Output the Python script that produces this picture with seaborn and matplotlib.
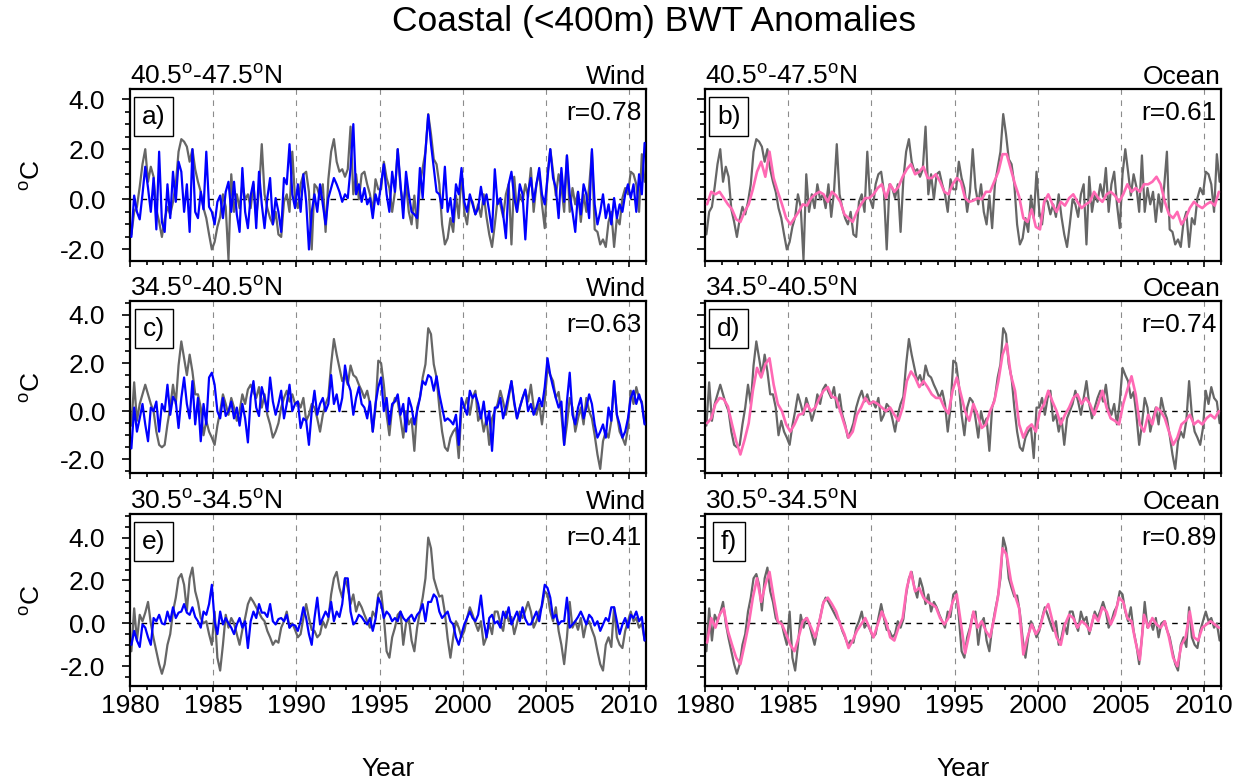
import numpy as np
import matplotlib
matplotlib.use("Agg")
import matplotlib.pyplot as plt
from matplotlib.ticker import MultipleLocator, FormatStrFormatter
import seaborn as sns

# ------- DATA (anomalies, degC) -----------------------------
# gray/wind series: 6 samples per year, ocean series: 4 samples per year, 1980-2010
years6 = 1980 + (np.arange(186) + 0.5) / 6
years4 = 1980 + (np.arange(124) + 0.5) / 4

obs_north = [
    -1.4, -0.5, -0.3, 0.5, 1.4, 2.0,   0.7, 1.3, 0.9, -0.4, -0.9, -1.5,
    -0.8, -0.3, -0.6, -0.1, 0.6, 1.9,  2.4, 2.3, 2.1, 1.5, 2.0, 1.2,
    0.7, 0.3, -0.35, -0.75, -1.4, -2.0,  -1.7, -1.1, -0.7, 0.2, -0.3, -2.4,
    1.0, -0.5, 0.2, -0.35, 0.6, 0.0,   0.2, -0.35, 0.6, -0.7, 0.3, 2.2,
    0.2, -0.35, -0.75, -1.0, -0.5, -1.4,  -1.5, -0.1, 0.2, -0.5, 1.9, 0.0,
    -0.35, 0.6, 1.0, 1.1, 0.3, -2.0,  0.6, 0.45, 0.05, 0.6, -1.3, 0.8,
    1.9, 2.4, 1.5, 1.1, 1.2, 0.9,   1.2, 2.9, 0.2, 1.0, 0.0, 1.0,
    1.1, 0.6, 0.2, -0.5, 0.8, 0.4,   0.4, 1.5, 0.85, 0.45, -0.5, 0.3,
    2.0, 0.45, -0.2, 0.6, -0.5, -1.0,  0.15, -1.15, 0.6, 1.25, 1.9, 3.4,
    2.6, 1.6, 1.4, 0.6, -1.0, -1.8,  -1.55, -0.75, -1.3, 0.15, -0.75, 1.1,
    -0.5, -1.0, 0.05, -0.1, -0.6, -0.2,  -0.7, 0.2, -0.7, -1.4, -1.9, -1.0,
    0.0, -0.2, -0.7, 0.2, 0.6, -1.8,  0.9, -0.5, 0.2, -0.1, 0.6, 0.1,
    1.25, -0.5, 0.6, 1.1, -0.2, -1.15,  1.0, 2.0, 1.1, 0.15, 1.0, 0.5,
    -0.5, 1.75, -0.5, 0.45, -0.2, 0.3,  -0.9, 0.2, -0.5, 0.5, 1.9, -1.2,
    -1.3, -1.8, -1.6, -1.9, -0.9, -0.5,  -1.9, -0.75, -1.0, 0.05, 0.45, 0.2,
    1.1, 1.0, 0.6, -0.5, 1.8, 0.7,
]
wind_north = [
    -1.5, 0.15, -0.5, -0.8, 0.2, 1.3,  0.45, -0.5, 0.85, -1.2, 1.9, -0.9,
    -1.3, 0.6, -0.75, 1.1, -0.1, 1.5,  1.1, -0.5, 0.6, -1.3, 2.0, -0.5,
    -0.75, 0.3, -0.4, 1.9, -0.3, -0.5,  -1.0, -0.1, 0.15, -0.75, 0.3, 0.7,
    -0.5, 0.7, -0.6, -1.3, 1.25, -0.5,  -1.15, 0.15, 0.7, -1.15, 1.1, -0.2,
    -1.15, 0.05, 0.85, -1.0, 0.05, -0.5,  -1.3, 0.85, 0.6, 2.2, 0.2, -0.35,
    0.6, -0.5, 1.0, -0.1, -2.0, -0.5,  0.2, -0.5, 0.6, -0.2, -1.0, 0.05,
    0.45, 0.85, 0.6, 0.3, -0.1, 0.2,  0.05, 1.25, 3.0, 0.2, 0.6, -0.1,
    0.45, -0.2, 0.05, -0.75, 0.2, -0.2,  0.6, 1.4, 0.2, -0.5, 1.1, 0.3,
    2.0, 0.6, -0.75, 1.1, 0.2, -0.5,  -0.6, -0.75, 1.25, 0.05, 1.9, 3.37,
    2.2, 1.25, 0.3, 0.2, -0.35, 1.3,  -0.5, 0.05, -0.9, 0.6, 0.2, 1.25,
    -0.1, -0.5, 0.2, -0.2, -0.6, -0.35,  0.5, -0.2, 0.2, -0.5, -1.3, 1.2,
    -0.2, 0.05, -0.6, -1.55, 0.6, 1.1,  0.05, -0.5, 0.6, 0.2, -1.6, 0.3,
    0.85, -0.1, 0.6, 1.25, 0.2, -0.2,  0.85, 2.0, 0.85, 0.45, -0.75, 1.25,
    -0.1, 1.75, 0.2, -0.5, -1.3, 0.3,  -0.6, 0.6, 0.2, -0.75, 2.0, -0.2,
    -1.0, -0.5, 0.2, -0.75, -0.2, -1.0,  0.05, -0.75, -0.2, -0.5, 0.2, 0.6,
    0.05, 0.6, -0.5, 1.0, 0.2, 2.25,
]
ocean_north = [
    -0.2, 0.3, 0.2, 0.3,  0.05, -0.2, -0.4, -0.8,  -0.9, -0.5, -0.2, 0.4,
    1.1, 1.5, 0.9, 1.9,  0.85, 0.3, -0.2, -0.75,  -1.0, -0.75, -0.5, -0.2,
    -0.25, 0.05, 0.2, 0.3,  0.2, -0.1, 0.3, 0.15,  -0.1, -0.6, -0.75, -0.9,
    -0.5, -0.2, 0.05, 0.05,  0.2, 0.45, 0.6, 0.05,  0.6, 0.3, 0.5, 0.9,
    1.2, 1.4, 1.0, 1.1,  1.3, 0.85, 0.85, 1.0,  0.7, 0.3, 0.2, 0.6,
    0.85, 0.7, 0.05, -0.1,  -0.05, 0.05, 0.0, 0.3,  0.3, 0.7, 1.1, 1.8,
    1.8, 1.2, 0.6, 0.1,  -0.75, -0.9, -0.4, -1.1,  -1.2, -0.1, 0.2, -0.2,
    -0.5, -0.1, -0.25, 0.05,  0.2, -0.1, -0.35, -0.2,  -0.1, 0.3, 0.05, -0.1,
    0.2, 0.3, 0.15, -0.1,  0.2, 0.6, 0.3, 0.45,  0.3, 0.6, 0.6, 0.7,
    0.9, 0.6, -0.1, -0.6,  -0.75, -0.5, -1.0, -0.75,  -0.35, -0.1, -0.25, -0.35,
    -0.2, -0.1, -0.25, 0.3,
]

obs_mid = [
    -0.6, 1.2, -0.4, 0.3, 0.7, 1.1,  0.7, 0.3, 0.0, -0.85, -1.4, -1.5,
    -1.4, -0.55, 0.15, 1.1, 0.3, 1.9,  2.9, 2.2, 1.5, 2.35, 1.65, 0.7,
    0.7, 0.15, -1.0, -0.4, -0.85, -1.1,  -1.4, -0.6, 0.0, 0.7, 0.3, -0.15,
    0.55, 0.15, -0.4, 0.0, 0.7, 0.3,  0.9, 1.1, 0.8, 0.55, 1.0, 0.15,
    0.7, -0.15, -0.55, -1.1, -0.85, -0.5,  0.15, 0.55, 0.85, 0.4, 0.7, 0.3,
    0.4, 0.15, 0.55, -0.4, -0.15, 0.3,  0.15, -0.3, -0.85, -0.15, 0.3, 0.6,
    1.95, 3.0, 2.35, 1.8, 1.25, 1.5,  1.1, 1.9, 1.5, 1.4, 1.1, 0.85,
    0.55, 0.85, 0.3, -0.85, 0.15, 2.1,  2.0, 1.1, -0.15, -1.0, 0.15, 0.55,
    0.4, -0.3, -1.1, 0.0, -0.55, -0.3,  -1.65, 0.15, 0.55, 1.4, 1.95, 3.45,
    3.2, 1.95, 1.4, 0.15, -0.85, -1.5,  -1.65, -1.1, -0.85, -0.7, -1.95, 0.15,
    0.15, 0.55, -0.15, 0.55, 0.85, -0.4,  -0.15, -0.85, -0.3, -1.4, -0.3, 0.0,
    0.3, 0.85, 0.4, -0.15, 0.55, 1.25,  0.3, -0.3, 0.15, 0.55, 0.85, 0.4,
    1.1, 0.15, -0.15, 0.3, -0.55, 0.4,  1.8, 1.5, 1.25, 0.55, 0.8, -0.15,
    -1.4, -0.55, 0.55, 0.15, -0.85, -0.3,  0.15, -0.55, 0.55, 0.0, -0.3, -1.0,
    -1.8, -2.4, -1.25, -0.85, -1.1, -0.4,  1.25, -0.15, -0.85, -1.1, -1.4, -0.7,
    0.85, 0.3, 1.0, 0.55, 0.4, -0.5,
]
wind_mid = [
    -1.55, 0.15, -0.85, -0.3, 0.3, -0.55,  -1.25, 0.15, 0.0, 0.4, -0.85, 0.3,
    0.0, 1.1, -0.15, 0.6, 0.4, -0.7,  0.55, 1.4, 0.3, -0.3, 1.25, -0.55,
    0.55, -1.25, 0.3, -0.55, 1.4, 1.6,  1.1, 0.0, -0.3, 0.55, -0.2, 0.0,
    0.4, -0.3, 0.15, -0.6, 0.3, -0.3,  -1.3, 0.55, 1.25, 0.15, -0.2, 1.0,
    0.55, 0.0, 1.4, 0.4, -0.15, 0.3,  0.85, -0.3, 0.3, 1.1, 0.0, 0.3,
    0.4, -0.7, -0.3, -0.4, -1.4, 0.0,  0.85, -0.15, 0.3, 0.55, 0.0, 0.3,
    1.5, 0.3, 0.7, 0.0, 0.55, 1.9,  1.2, 0.85, -0.15, 0.55, 1.0, 0.3,
    0.15, -0.3, 0.4, -0.85, 0.3, 1.0,  1.4, 0.0, 0.55, -0.55, 0.3, 0.4,
    0.7, -0.15, 0.3, -0.85, 0.55, 0.15,  -0.55, 0.0, 0.55, 1.25, 1.1, 1.5,
    1.4, 0.85, 1.45, 0.7, 0.15, -0.4,  -0.3, -0.4, -0.55, -0.15, -1.4, 0.55,
    0.15, -0.15, 0.85, 0.55, 0.7, 0.3,  -0.3, 0.4, -0.55, 0.0, -1.65, 0.15,
    0.15, 0.55, -0.3, 0.15, 0.7, 1.25,  0.4, -0.3, 0.15, 0.55, 0.9, 0.0,
    0.3, -0.15, 0.15, 0.55, 0.2, 1.0,  2.2, 1.5, 1.0, 0.55, 0.15, 0.4,
    -1.4, 0.4, 1.6, -0.15, -0.55, 0.15,  0.55, -0.3, 0.15, 0.7, 0.3, -0.55,
    -1.1, -0.85, -0.55, -1.1, 0.15, -0.4,  1.25, -0.15, -0.55, -1.1, -0.85, -0.3,
    0.55, 0.85, 0.3, 0.7, 0.3, -0.55,
]
ocean_mid = [
    -0.5, -0.3, 0.3, 0.55,  0.5, 0.2, -0.55, -1.25,  -1.8, -1.2, -0.5, 0.85,
    1.8, 1.4, 1.95, 2.2,  1.1, 0.3, 0.0, -0.55,  -0.85, -0.55, -0.15, -0.1,
    0.3, 0.0, 0.15, 0.55,  0.85, 1.0, 0.6, 0.55,  0.0, -0.55, -1.1, -0.85,
    -0.15, 0.15, 0.55, 0.3,  0.4, 0.3, 0.15, 0.0,  0.15, -0.15, -0.4, 0.15,
    1.25, 1.65, 1.4, 1.0,  1.25, 1.0, 0.7, 0.55,  0.55, 0.15, -0.1, 0.85,
    1.4, 0.7, 0.0, -0.4,  0.3, -0.15, -0.7, -0.55,  0.0, 0.4, 1.25, 2.35,
    2.8, 1.5, 0.85, -0.55,  -1.1, -0.7, -0.55, -0.85,  0.0, 0.3, 0.85, 0.4,
    0.0, -0.55, -0.15, 0.15,  0.55, 0.7, 0.3, 0.55,  0.3, -0.15, 0.3, 0.85,
    0.15, -0.3, -0.4, -0.55,  0.3, 0.9, 1.45, 0.7,  -0.55, -0.85, -0.15, -0.55,
    0.15, 0.0, -0.3, -0.85,  -1.4, -1.1, -0.55, -0.4,  -0.15, -0.55, -0.4, -0.55,
    -0.3, -0.15, -0.3, 0.0,
]

obs_south = [
    -1.3, 0.7, -0.8, 0.4, 0.1, 0.5,  1.0, 0.0, -0.7, -1.3, -1.9, -2.35,
    -1.9, -1.0, -0.5, 0.55, 1.2, 2.1,  2.3, 1.8, 0.6, 2.1, 2.6, 1.5,
    1.0, 0.25, 0.0, 0.1, -0.5, -1.0,  0.55, -1.6, -2.2, -1.0, 0.4, -0.2,
    0.25, 0.0, -0.5, -1.0, -0.3, 0.25,  0.9, 1.2, 1.0, 0.75, 0.5, 0.25,
    0.1, -0.35, -0.65, -1.0, -0.8, -0.9,  -0.2, 0.1, 0.55, -0.2, 0.0, -0.3,
    -0.65, -0.5, 0.25, 0.9, 0.25, -0.3,  -0.35, -0.65, -0.5, 0.1, -0.2, 0.2,
    1.35, 2.1, 2.4, 1.65, 1.2, 2.1,  1.65, 0.9, 1.35, 0.55, 1.0, 0.75,
    0.4, 0.1, -0.2, 0.55, 0.3, 1.35,  1.5, 0.3, -1.3, -1.6, -0.65, -0.2,
    0.4, 0.55, -1.0, 0.0, 0.25, -0.8,  -1.3, -0.2, 0.55, 1.2, 2.1, 4.0,
    3.5, 2.1, 1.65, 1.25, 1.3, 0.5,  -0.7, -1.6, -0.65, 0.1, -0.2, -0.65,
    -0.35, 0.25, 0.75, 0.4, 0.0, -0.35,  0.1, -1.0, -0.65, 0.0, -0.5, 0.55,
    0.55, 0.0, -0.35, 0.55, 0.1, 0.3,  -0.5, 0.0, 0.55, 0.25, 0.6, 1.0,
    0.55, -0.2, 0.1, 0.55, 0.8, 1.5,  1.35, 0.55, 0.1, 0.75, -0.35, -1.0,
    -1.9, -0.65, 1.0, -0.2, 0.1, -0.3,  0.25, -0.65, 0.0, 0.1, -0.3, -0.65,
    -1.3, -1.9, -2.2, -1.0, -0.65, -1.1,  0.75, -0.65, -1.0, -1.15, -0.35, 0.1,
    0.55, 0.1, 0.25, -0.2, 0.0, -0.8,
]
wind_south = [
    -1.0, -0.35, -0.8, -1.1, -0.05, -0.2,  -0.65, -1.0, 0.25, 0.1, 0.4, 0.0,
    -0.05, 0.55, 0.1, 0.75, 0.25, 0.5,  0.55, 0.9, 0.5, 0.4, 0.75, 0.3,
    0.1, -0.2, 0.55, 0.4, 0.9, 1.8,  0.1, -0.5, 0.55, -0.05, 0.25, 0.0,
    -0.2, -0.5, -0.05, 0.25, -0.2, 0.1,  -1.15, 0.1, 0.55, 0.25, 0.9, 0.5,
    0.5, 0.3, 0.9, 0.1, -0.05, 0.2,  0.25, 0.1, 0.4, -0.2, -0.05, -0.1,
    -0.35, 0.1, 0.75, 0.25, -0.5, -1.0,  0.25, 1.2, -0.05, 0.25, 0.55, 0.3,
    1.0, 0.1, 0.55, 0.3, 0.9, 2.1,  2.1, 0.55, -0.05, 0.1, 0.4, 0.3,
    0.1, -0.05, 0.25, -0.35, 0.2, 1.2,  0.9, 0.25, 0.55, 0.4, 0.1, 0.25,
    0.1, 0.55, 0.25, 0.1, 0.25, 0.4,  0.1, 0.4, 0.55, 0.9, 0.1, 1.0,
    1.0, 1.35, 1.2, 0.55, 0.25, 0.4,  0.55, 0.1, -0.05, -0.65, -1.0, -0.5,
    -0.05, 0.25, 0.55, 0.25, 0.1, 0.4,  1.3, 0.1, -0.65, 0.25, 0.4, 0.0,
    0.1, -0.2, 0.55, 0.25, 0.75, -0.05,  0.25, 0.55, 0.1, 0.75, 0.2, -0.05,
    -0.05, 0.25, 0.55, 0.1, 0.9, 1.8,  1.65, 1.2, 0.25, 0.4, -0.05, 0.1,
    0.1, 1.2, -0.2, -0.05, 0.1, 0.3,  0.55, 0.25, -0.05, 0.4, 0.25, -0.1,
    0.1, -0.35, -0.05, 0.25, 0.1, 0.75,  0.75, 0.1, -0.5, -0.05, 0.25, -0.2,
    0.4, 0.25, 0.55, 0.1, 0.3, -0.8,
]
ocean_south = [
    -0.9, 0.25, -0.2, 0.4,  0.7, -0.35, -1.0, -1.6,  -1.9, -1.0, -0.05, 1.2,
    2.1, 1.0, 1.8, 2.4,  1.2, 0.1, -0.05, -0.5,  -1.0, -1.3, -0.65, 0.1,
    0.25, -0.2, -0.65, 0.1,  1.0, 1.2, 0.9, 0.55,  -0.05, -0.5, -1.15, -0.8,
    -0.35, -0.05, 0.25, -0.2,  -0.65, -0.05, 0.55, 0.1,  -0.65, -0.8, -0.2, 0.25,
    1.65, 2.4, 1.5, 1.65,  1.2, 1.0, 0.9, 0.75,  0.25, -0.05, 0.25, 1.0,
    1.35, 0.0, -1.4, -0.5,  0.55, -0.2, 0.1, -0.35,  -0.65, 0.25, 1.35, 3.5,
    3.2, 2.0, 1.3, 0.7,  -1.45, -0.65, -0.05, -0.5,  -0.2, 0.55, 0.9, 0.1,
    -0.65, -1.0, -0.05, 0.4,  0.25, -0.2, 0.1, -0.05,  -0.35, 0.4, 0.1, 0.75,
    0.55, -0.05, 0.4, 1.2,  1.0, 0.25, 0.1, -0.9,  -1.7, 0.4, -0.2, 0.25,
    -0.05, -0.2, 0.1, -0.65,  -1.6, -2.0, -1.0, -0.65,  0.55, -0.65, -0.8, -0.2,
    -0.05, 0.1, -0.05, -0.2,
]

lat_bands = ["40.5$^{o}$-47.5$^{o}$N", "34.5$^{o}$-40.5$^{o}$N", "30.5$^{o}$-34.5$^{o}$N"]
forcing = ["Wind", "Ocean"]
panel_tags = ["a)", "b)", "c)", "d)", "e)", "f)"]
r_values = ["0.78", "0.61", "0.63", "0.74", "0.41", "0.89"]
row_ylims = [(-2.46, 4.4), (-2.57, 4.58), (-2.92, 5.1)]

observed = [obs_north, obs_mid, obs_south]
wind = [wind_north, wind_mid, wind_south]
ocean = [ocean_north, ocean_mid, ocean_south]

# ------- STYLE ---------
sns.set_style("ticks")
plt.rcParams["font.family"] = ["Liberation Sans", "DejaVu Sans"]
plt.rcParams["mathtext.default"] = "regular"
plt.rcParams["axes.unicode_minus"] = False
plt.rcParams["text.color"] = "black"
plt.rcParams["axes.labelcolor"] = "black"
plt.rcParams["axes.titlecolor"] = "black"
plt.rcParams["xtick.color"] = "black"
plt.rcParams["ytick.color"] = "black"

GRAY = "#666666"
BLUE = "#0000ff"
PINK = "#ff69b4"
FS = 19

fig = plt.figure(figsize=(12.44, 7.82), dpi=100)
col_left = [130 / 1244, 705 / 1244]
row_bottom = [1 - 261 / 782, 1 - 473 / 782, 1 - 686 / 782]
ax_w, ax_h = 516 / 1244, 172 / 782

for row in range(3):
    for col in range(2):
        ax = fig.add_axes([col_left[col], row_bottom[row], ax_w, ax_h])
        k = row * 2 + col

        for yr in range(1985, 2011, 5):
            ax.axvline(yr, color="#8c8c8c", lw=0.8, dashes=(5, 5), zorder=1)
        ax.axhline(0, color="black", lw=1.0, dashes=(4, 4), zorder=1)

        sns.lineplot(x=years6, y=observed[row], ax=ax, color=GRAY, lw=1.6,
                     estimator=None, zorder=2)
        if col == 0:
            sns.lineplot(x=years6, y=wind[row], ax=ax, color=BLUE, lw=1.6,
                         estimator=None, zorder=3)
        else:
            sns.lineplot(x=years4, y=ocean[row], ax=ax, color=PINK, lw=1.9,
                         estimator=None, zorder=3)

        ax.set_xlim(1980, 2011)
        ax.set_ylim(*row_ylims[row])
        ax.xaxis.set_major_locator(MultipleLocator(5))
        ax.xaxis.set_minor_locator(MultipleLocator(1))
        ax.yaxis.set_major_locator(MultipleLocator(2))
        ax.yaxis.set_minor_locator(MultipleLocator(0.5))
        ax.yaxis.set_major_formatter(FormatStrFormatter("%.1f"))
        ax.tick_params(which="both", direction="out", top=False, right=False,
                       width=1.2, labelsize=FS)
        ax.tick_params(axis="x", which="major", length=4.5, pad=1.5)
        ax.tick_params(axis="x", which="minor", length=3)
        ax.tick_params(axis="y", which="major", length=6, pad=12)
        ax.tick_params(axis="y", which="minor", length=3.5)
        ax.tick_params(axis="x", labelbottom=(row == 2))
        ax.tick_params(axis="y", labelleft=(col == 0))
        for sp in ax.spines.values():
            sp.set_linewidth(1.6)
            sp.set_color("black")

        ax.set_title(lat_bands[row], loc="left", fontsize=FS, pad=2)
        ax.set_title(forcing[col], loc="right", fontsize=FS, pad=2)
        ax.text(0.046, 0.84, panel_tags[k], transform=ax.transAxes, fontsize=FS,
                ha="center", va="center", zorder=5,
                bbox=dict(boxstyle="square,pad=0.3", fc="white", ec="black", lw=1.0))
        ax.text(0.992, 0.86, "r=" + r_values[k], transform=ax.transAxes,
                fontsize=FS, ha="right", va="center", zorder=5)

        ax.set_xlabel("")
        ax.set_ylabel("")
        if col == 0:
            ax.set_ylabel("$^{o}$C", fontsize=FS)
            ax.yaxis.set_label_coords(-0.165, 0.5)
        if row == 2:
            ax.set_xlabel("Year", fontsize=FS)
            ax.xaxis.set_label_coords(0.5, -0.41)

fig.text(654 / 1244, 1 - 22 / 782, "Coastal (<400m) BWT Anomalies", ha="center",
         va="center", fontsize=25.5)

fig.savefig("out.png", dpi=100)
